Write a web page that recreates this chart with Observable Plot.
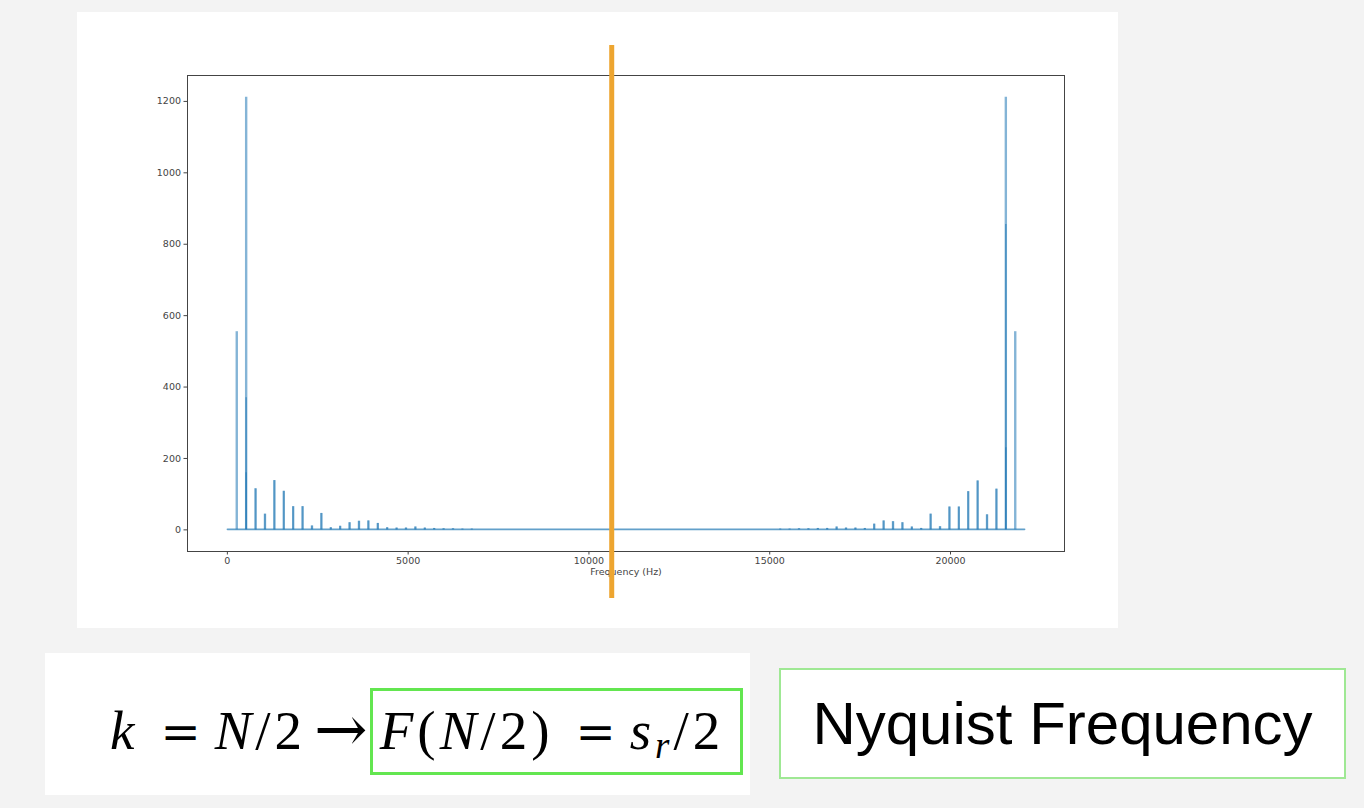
<!DOCTYPE html>
<html>
<head>
<meta charset="utf-8">
<script src="https://cdn.jsdelivr.net/npm/d3@7"></script>
<script src="https://cdn.jsdelivr.net/npm/@observablehq/plot@0.6"></script>
<style>
  html, body { margin: 0; padding: 0; }
  body { width: 1364px; height: 808px; background: #f3f3f3; position: relative; overflow: hidden; }
  #panel { position: absolute; left: 77px; top: 12px; width: 1041px; height: 616px; background: #fff; }
  #chart { position: absolute; left: 130px; top: 40px; }
  #formula { position: absolute; left: 45px; top: 653px; width: 705px; height: 142px; background: #fff; }
  #formula .line { position: absolute; top: 35px; left: 65px; white-space: nowrap; font-family: "Liberation Serif", "DejaVu Serif", serif; font-size: 55px; color: #000; line-height: 1; letter-spacing: 4px; }
  .it { font-style: italic; }
  .op { font-family: "DejaVu Serif", serif; font-size: 48px; letter-spacing: 0; margin: 0 14px 0 22px; }
  .arrow { font-family: "DejaVu Serif", serif; font-size: 64px; letter-spacing: 0; margin: 0 2px 0 8px; position: relative; top: 2px; }
  .boxed { display: inline-block; border: 3px solid #63e650; padding: 12px 16px 14px 7px; }
  sub { font-size: 37px; vertical-align: -9px; line-height: 0; }
  #nyq { position: absolute; left: 779px; top: 668px; width: 567px; height: 111px; box-sizing: border-box; border: 2px solid #9fe894; background: #fff;
         font-family: "Liberation Sans", Arial, sans-serif; font-size: 60px; color: #000; display: flex; align-items: center; justify-content: center; }
</style>
</head>
<body>
<div id="panel"></div>
<div id="chart"></div>
<div id="formula">
  <div class="line"><span class="it">k</span><span class="op">=</span><span class="it">N</span>/2<span class="arrow">→</span><span class="boxed"><span class="it">F</span>(<span class="it">N</span>/2)<span class="op">=</span><span class="it">s</span><sub class="it">r</sub>/2</span></div>
</div>
<div id="nyq">Nyquist Frequency</div>
<script>
// ---- data ----
const sampleRate = 22050;          // Hz, spectrum spans 0 .. sampleRate
const fundamental = 260;           // Hz, spacing of harmonic peaks
const nyquistMarker = 10630;       // Hz, where the orange line was drawn
const harmonicNumbers = [1, 2, 3, 4, 5, 6, 7, 8, 9, 10, 11, 12, 13, 14, 15, 16, 17, 18, 19, 20, 21, 22, 23, 24, 25, 26];
const lowSideMagnitudes  = [555, 1212, 115, 44, 138, 108, 65, 65, 11, 46, 6, 10, 20, 24, 25, 18, 6, 5, 5, 8, 5, 4, 3, 3, 2, 2];
const highSideMagnitudes = [555, 1212, 114, 42, 137, 107, 64, 64, 9, 44, 4, 8, 20, 23, 25, 16, 4, 5, 5, 8, 4, 4, 3, 3, 2, 2];
const lowSideShoulders  = [{n: 2, mag: 370}, {n: 2, mag: 160}];
const highSideShoulders = [{n: 2, mag: 855}, {n: 2, mag: 230}];
const noiseFloor = 1.5;
const xTicks = [0, 5000, 10000, 15000, 20000];
const yTicks = [0, 200, 400, 600, 800, 1000, 1200];

// ---- build tables ----
const peaks = [
  ...harmonicNumbers.map((n, i) => ({freq: n * fundamental, mag: lowSideMagnitudes[i]})),
  ...harmonicNumbers.map((n, i) => ({freq: sampleRate - n * fundamental, mag: highSideMagnitudes[i]}))
];
const shoulders = [
  ...lowSideShoulders.map(d => ({freq: d.n * fundamental, mag: d.mag})),
  ...highSideShoulders.map(d => ({freq: sampleRate - d.n * fundamental, mag: d.mag}))
];
const floorLine = [{freq: 0, mag: noiseFloor}, {freq: sampleRate, mag: noiseFloor}];

const magMax = d3.max(peaks, d => d.mag);
const xPad = sampleRate * 0.05, yPad = magMax * 0.05;
const plain = d3.format("d");

const chart = Plot.plot({
  width: 960,
  height: 570,
  marginLeft: 57,
  marginRight: 26,
  marginTop: 35,
  marginBottom: 59,
  style: {background: "transparent", fontFamily: "DejaVu Sans, sans-serif", overflow: "visible"},
  x: {domain: [-xPad, sampleRate + xPad]},
  y: {domain: [-yPad, magMax + yPad]},
  marks: [
    Plot.line(floorLine, {x: "freq", y: "mag", stroke: "#1f77b4", strokeWidth: 1.6, strokeOpacity: 0.7}),
    Plot.ruleX(peaks, {x: "freq", y1: 0, y2: "mag", stroke: "#1f77b4", strokeWidth: 2.4, strokeOpacity: 0.55}),
    Plot.ruleX(peaks.filter(d => d.mag < 300), {x: "freq", y1: 0, y2: "mag", stroke: "#1f77b4", strokeWidth: 1.6, strokeOpacity: 0.5}),
    Plot.ruleX(shoulders, {x: "freq", y1: 0, y2: "mag", stroke: "#1f77b4", strokeWidth: 1.6, strokeOpacity: 0.55}),
    Plot.frame({stroke: "#444", strokeWidth: 1}),
    Plot.axisX({ticks: xTicks, tickFormat: plain, tickSize: 3.5, tickPadding: 2, fontSize: 9.5, fill: "#444", stroke: "#444", label: null}),
    Plot.axisY({ticks: yTicks, tickFormat: plain, tickSize: 3.5, tickPadding: 3, fontSize: 9.5, fill: "#444", stroke: "#444", label: null}),
    Plot.text(["Frequency (Hz)"], {frameAnchor: "bottom", dy: 23, fontSize: 9.5, fill: "#444"}),
    Plot.ruleX([nyquistMarker], {stroke: "#eda530", strokeWidth: 5, insetTop: -30, insetBottom: -47})
  ]
});
document.getElementById("chart").appendChild(chart);
</script>
</body>
</html>
